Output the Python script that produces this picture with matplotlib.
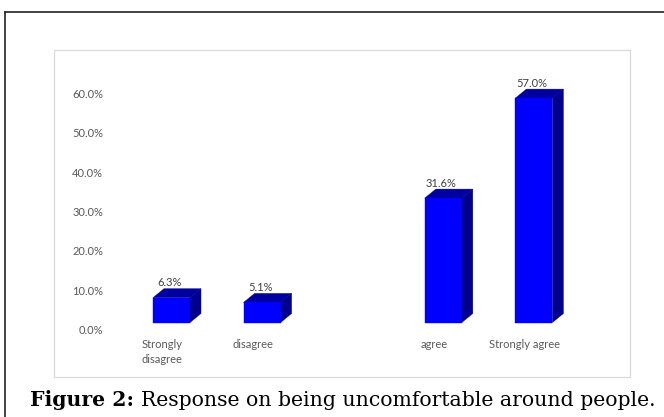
import numpy as np
import matplotlib
matplotlib.use("Agg")
import matplotlib.pyplot as plt
from matplotlib.patches import Rectangle, Polygon
from matplotlib.lines import Line2D
from matplotlib.transforms import ScaledTranslation

# survey responses (neutral slot left empty)
categories = ["Strongly\ndisagree", "disagree", "", "agree", "Strongly agree"]
percent = [6.3, 5.1, np.nan, 31.6, 57.0]
y_ticks = [0, 10, 20, 30, 40, 50, 60]
y_tick_labels = ["0.0%", "10.0%", "20.0%", "30.0%", "40.0%", "50.0%", "60.0%"]
caption_bold = "Figure 2:"
caption_text = "Response on being uncomfortable around people."

W, H, DPI = 664, 417, 100
fig = plt.figure(figsize=(W / DPI, H / DPI), dpi=DPI)
fig.patch.set_facecolor("white")


def fx(px):
    return px / W


def fy(py):
    return 1 - py / H


# outer page frame (only left and top edges are visible)
fig.add_artist(Line2D([fx(5), fx(5)], [fy(12), fy(H + 5)], color="#222222", lw=1.2))
fig.add_artist(Line2D([fx(5), fx(W + 5)], [fy(12), fy(12)], color="#222222", lw=1.2))

# chart area border
fig.add_artist(Rectangle((fx(54), fy(377)), fx(630 - 54), (377 - 50) / H,
                         fill=False, edgecolor="#d9d9d9", lw=0.9))

# plot area in pixels
left, right, top, bottom = 110, 590, 93.3, 329.5
ax = fig.add_axes([fx(left), fy(bottom), fx(right - left), (bottom - top) / H])
x0_px = 162.0
slot_px = 90.6
xlim = ((left - x0_px) / slot_px, (right - x0_px) / slot_px)
ax.set_xlim(*xlim)
ax.set_ylim(0, 60)
px_x = (right - left) / (xlim[1] - xlim[0])
px_y = (bottom - top) / 60.0

for s in ax.spines.values():
    s.set_visible(False)
ax.set_facecolor("none")

ax.set_yticks(y_ticks)
ax.set_yticklabels(y_tick_labels)
ax.set_xticks(range(len(categories)))
ax.set_xticklabels(categories)
ax.tick_params(axis="both", length=0, labelcolor="#595959", labelsize=8)
ax.tick_params(axis="y", pad=5)
ax.tick_params(axis="x", pad=7)
for lab in ax.get_xticklabels() + ax.get_yticklabels():
    lab.set_fontfamily("Lato")
for lab in ax.get_xticklabels():
    lab.set_linespacing(1.4)

# 3d look: bars pushed forward/down, faces offset to the back-right
shift = ax.transData + ScaledTranslation(9.5 / DPI, 7 / DPI, fig.dpi_scale_trans)
bw = 37 / px_x
dx = 11 / px_x
dy = 9 / px_y
front_c, top_c, side_c = "#0000ff", "#00009e", "#00008c"

for i, v in enumerate(percent):
    if np.isnan(v):
        continue
    l, r = i - bw / 2, i + bw / 2
    ax.add_patch(Polygon([(r, 0), (r + dx, dy), (r + dx, v + dy), (r, v)],
                         closed=True, facecolor=side_c, edgecolor=side_c, lw=0.3,
                         transform=shift, clip_on=False))
    ax.add_patch(Polygon([(l, v), (l + dx, v + dy), (r + dx, v + dy), (r, v)],
                         closed=True, facecolor=top_c, edgecolor=top_c, lw=0.3,
                         transform=shift, clip_on=False))
    ax.add_patch(Rectangle((l, 0), bw, v, facecolor=front_c, edgecolor=front_c,
                           lw=0.3, transform=shift, clip_on=False))
    ax.annotate(f"{v:.1f}%", (i, v), xycoords=shift, xytext=(-2, 15),
                textcoords="offset pixels", ha="center", va="center",
                fontsize=8, color="#404040", family="Lato", annotation_clip=False)

# caption, sized to span the page width
cap_x, cap_right, cap_base = 30, 655, 406
size = 14.0
renderer = fig.canvas.get_renderer()
for _ in range(3):
    t1 = fig.text(fx(cap_x), fy(cap_base), caption_bold + " ", fontsize=size,
                  fontweight="bold", family="DejaVu Serif", va="baseline")
    w1 = t1.get_window_extent(renderer).width
    t2 = fig.text(fx(cap_x + w1), fy(cap_base), caption_text, fontsize=size,
                  family="DejaVu Serif", va="baseline")
    w2 = t2.get_window_extent(renderer).width
    total = w1 + w2
    if abs(total - (cap_right - cap_x)) < 1:
        break
    t1.remove()
    t2.remove()
    size *= (cap_right - cap_x) / total

fig.savefig("out.png", dpi=DPI)
